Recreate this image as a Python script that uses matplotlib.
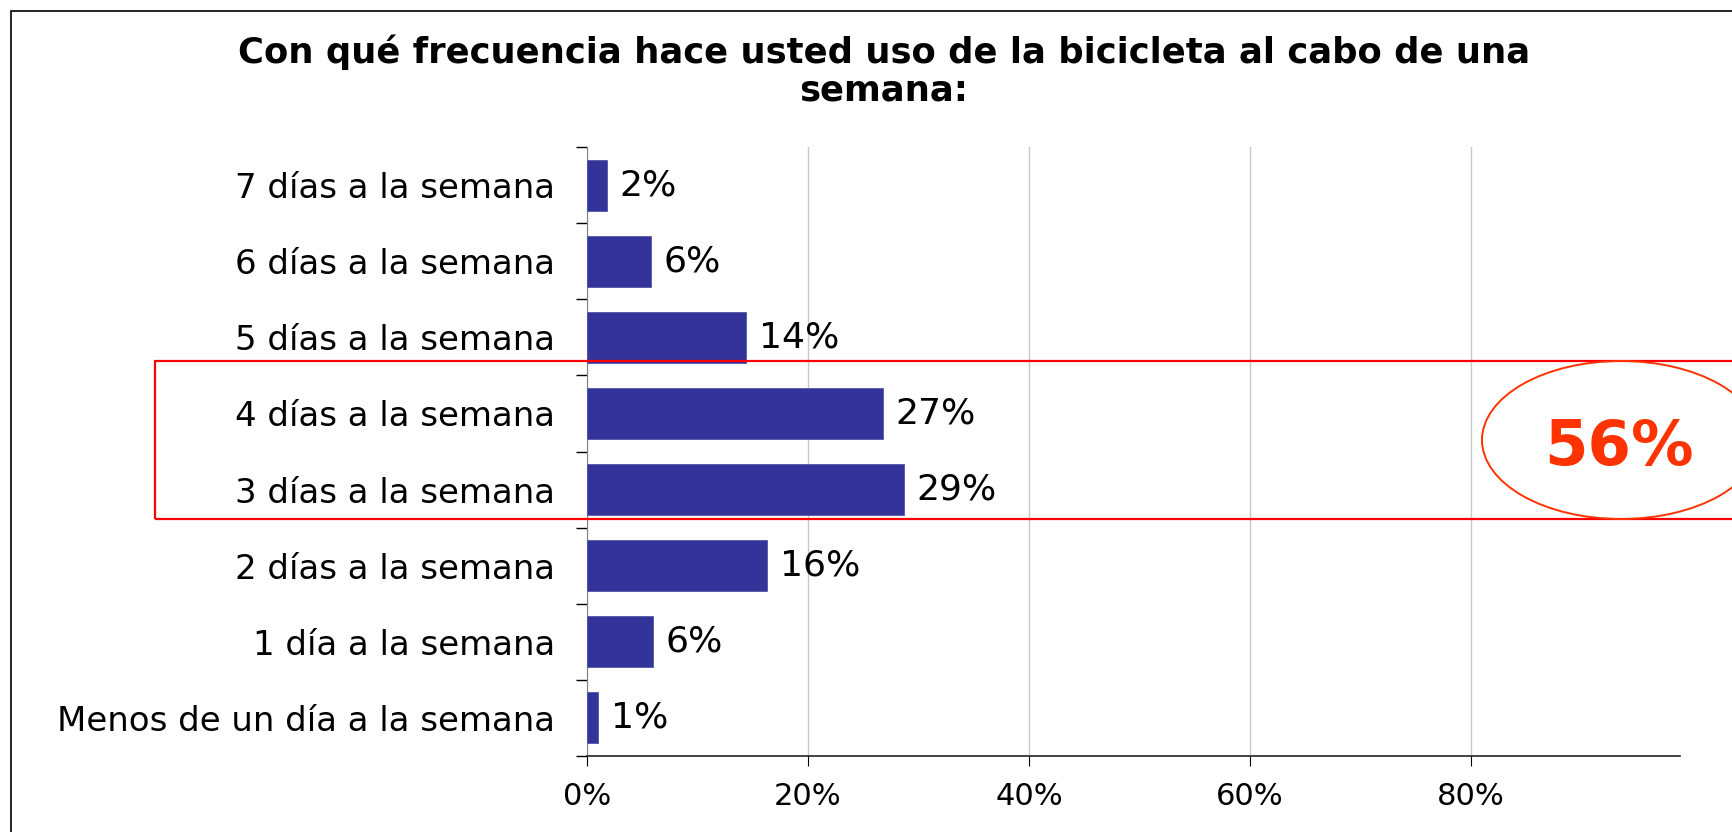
import matplotlib
matplotlib.use("Agg")
import matplotlib.pyplot as plt
from matplotlib.patches import Rectangle, Ellipse
from matplotlib.ticker import FuncFormatter

plt.rcParams['font.family'] = ['DejaVu Sans']

categories = ["7 días a la semana", "6 días a la semana", "5 días a la semana",
              "4 días a la semana", "3 días a la semana", "2 días a la semana",
              "1 día a la semana", "Menos de un día a la semana"]
values = [1.8, 5.8, 14.4, 26.8, 28.7, 16.3, 6.0, 1.0]
xticks = [0, 20, 40, 60, 80]
title = "Con qué frecuencia hace usted uso de la bicicleta al cabo de una\nsemana:"
highlight_text = "56%"

W, H = 1733, 832
fig = plt.figure(figsize=(W / 100, H / 100), dpi=100)

# outer frame
fig.add_artist(Rectangle((11 / W, -0.1), 1.2, 1 - 11 / H + 0.1, transform=fig.transFigure,
                         fill=False, edgecolor='black', linewidth=1.2))

ax = fig.add_axes([587 / W, (H - 756) / H, (1680 - 587) / W, (756 - 147) / H])
y = list(range(len(categories)))
bars = ax.barh(y, values, height=0.67, color='#333399', edgecolor='#5555aa', linewidth=0.6, zorder=3)
ax.set_ylim(len(categories) - 0.5, -0.5)
ax.set_xlim(0, 98.9)

ax.set_yticks(y)
ax.set_yticklabels(categories, fontsize=24.5)
ax.set_yticks([i - 0.5 for i in range(len(categories) + 1)], minor=True)
ax.tick_params(axis='y', which='major', length=0, pad=23)
ax.tick_params(axis='y', which='minor', length=8, width=1, color='black', direction='out')

ax.set_xticks(xticks)
ax.xaxis.set_major_formatter(FuncFormatter(lambda v, p: f"{v:.0f}%"))
ax.tick_params(axis='x', which='major', length=7, width=0.8, pad=12, labelsize=22)
ax.grid(axis='x', color='#c8c8c8', linewidth=1, zorder=0)

for s in ['top', 'right']:
    ax.spines[s].set_visible(False)
ax.spines['left'].set_color('#808080')
ax.spines['bottom'].set_color('#222222')
ax.spines['bottom'].set_linewidth(1.2)

ax.bar_label(bars, labels=[f"{round(v)}%" for v in values], padding=9, fontsize=26)

fig.text(884 / W, 1 - 71 / H, title, ha='center', va='center', fontsize=25.5,
         fontweight='bold', linespacing=1.12)

# highlight rectangle and ellipse
fig.add_artist(Rectangle((155 / W, 1 - 519 / H), 1.0, (519 - 361) / H, transform=fig.transFigure,
                         fill=False, edgecolor='#ff0000', linewidth=1.6, zorder=5))
fig.add_artist(Ellipse((1621 / W, 1 - 440 / H), 278 / W, 158 / H, transform=fig.transFigure,
                       fill=False, edgecolor='#ff3300', linewidth=1.4, zorder=5))
fig.text(1619 / W, 1 - 448 / H, highlight_text, ha='center', va='center', fontsize=45,
         fontweight='bold', color='#ff3300')

fig.savefig("out.png", dpi=100)
